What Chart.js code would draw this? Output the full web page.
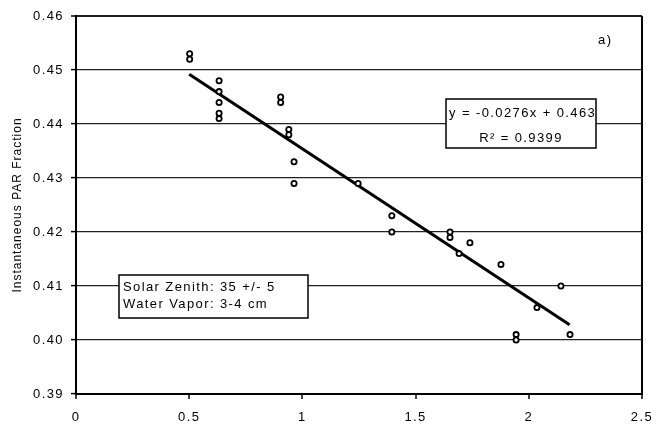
<!DOCTYPE html>
<html>
<head>
<meta charset="utf-8">
<script src="https://cdn.jsdelivr.net/npm/chart.js@4/dist/chart.umd.min.js"></script>
<style>
html, body { margin: 0; padding: 0; background: #fff; }
#wrap { width: 666px; height: 425px; }
</style>
</head>
<body>
<div id="wrap"><canvas id="parChart"></canvas></div>
<script>
// measured points: water vapour path (x) vs PAR fraction (y)
const waterVapor = [0.502, 0.502, 0.632, 0.632, 0.632, 0.632, 0.632, 0.904, 0.904, 0.94, 0.94, 0.963, 0.963,
  1.246, 1.395, 1.395, 1.652, 1.652, 1.692, 1.74, 1.877, 1.944, 1.944, 2.036, 2.142, 2.182];
const parFraction = [0.453, 0.452, 0.448, 0.446, 0.444, 0.442, 0.441, 0.445, 0.444, 0.439, 0.438, 0.433, 0.429,
  0.429, 0.423, 0.420, 0.420, 0.419, 0.416, 0.418, 0.414, 0.401, 0.400, 0.406, 0.410, 0.401];

// linear fit
const fitSlope = -0.0276;
const fitIntercept = 0.463;
const fitR2 = 0.9399;
const fitRange = [0.5, 2.18];

const xTickValues = [0, 0.5, 1, 1.5, 2, 2.5];
const yTickValues = [0.39, 0.40, 0.41, 0.42, 0.43, 0.44, 0.45, 0.46];

const FONT = "'Liberation Sans', Arial, Helvetica, sans-serif";
const yTitle = 'Instantaneous PAR Fraction';

const points = waterVapor.map((x, i) => ({ x: x, y: parFraction[i] }));
const fitLine = fitRange.map(x => ({ x: x, y: fitIntercept + fitSlope * x }));

function spacing(chart) {
  chart.ctx.letterSpacing = '1.4px';
}

function textBox(ctx, x, y, w, h) {
  ctx.fillStyle = '#fff';
  ctx.fillRect(x, y, w, h);
  ctx.strokeStyle = '#000';
  ctx.lineWidth = 1.5;
  ctx.strokeRect(x, y, w, h);
}

const notes = {
  id: 'notes',
  beforeUpdate: spacing,
  beforeDraw: spacing,
  afterDatasetsDraw(chart) {
    const ctx = chart.ctx;
    const a = chart.chartArea;
    ctx.save();
    ctx.font = '13px ' + FONT;
    ctx.textBaseline = 'middle';

    // y axis title
    ctx.save();
    ctx.letterSpacing = '1px';
    ctx.font = '12px ' + FONT;
    ctx.fillStyle = '#000';
    ctx.textAlign = 'center';
    ctx.translate(18, (a.top + a.bottom) / 2);
    ctx.rotate(-Math.PI / 2);
    ctx.fillText(yTitle, 0, 0);
    ctx.restore();

    ctx.letterSpacing = '1.4px';

    // panel tag
    ctx.fillStyle = '#000';
    ctx.textAlign = 'left';
    ctx.fillText('a)', a.left + 522, a.top + 24);

    // regression box
    textBox(ctx, a.left + 370, a.top + 83, 150, 49);
    ctx.fillStyle = '#000';
    ctx.textAlign = 'left';
    ctx.fillText('y = ' + fitSlope.toFixed(4) + 'x + ' + fitIntercept.toFixed(3), a.left + 373, a.top + 97);
    ctx.textAlign = 'center';
    ctx.fillText('R\u00B2 = ' + fitR2.toFixed(4), a.left + 445, a.top + 122);

    // conditions box
    textBox(ctx, a.left + 43, a.top + 259, 189, 43);
    ctx.fillStyle = '#000';
    ctx.textAlign = 'left';
    ctx.fillText('Solar Zenith: 35 +/- 5', a.left + 47, a.top + 271);
    ctx.fillText('Water Vapor: 3-4 cm', a.left + 47, a.top + 288);
    ctx.restore();
  }
};

const ctx = document.getElementById('parChart').getContext('2d');
const parChart = new Chart(ctx, {
  type: 'scatter',
  data: {
    datasets: [{
      label: 'PAR fraction',
      data: points,
      pointStyle: 'circle',
      pointRadius: 2.6,
      pointBorderWidth: 1.8,
      pointBorderColor: '#000',
      pointBackgroundColor: '#fff',
      order: 1
    }, {
      type: 'line',
      label: 'Linear fit',
      data: fitLine,
      borderColor: '#000',
      borderWidth: 3,
      pointRadius: 0,
      fill: false,
      order: 2
    }]
  },
  options: {
    responsive: true,
    maintainAspectRatio: false,
    animation: false,
    layout: { padding: { top: 16, right: 24, left: 0, bottom: 0 } },
    plugins: {
      legend: { display: false },
      tooltip: { enabled: false }
    },
    scales: {
      x: {
        type: 'linear',
        min: 0,
        max: 2.5,
        afterBuildTicks: s => { s.ticks = xTickValues.map(v => ({ value: v })); },
        afterFit: s => { s.height = 31; },
        ticks: {
          color: '#000',
          padding: 11,
          font: { family: FONT, size: 13 },
          callback: v => String(v)
        },
        grid: {
          color: c => (c.tick && c.tick.value === 2.5 ? '#000' : 'rgba(0,0,0,0)'),
          lineWidth: 2,
          tickColor: '#000',
          tickLength: 5,
          tickWidth: 1.5
        },
        border: { display: true, color: '#000', width: 2 }
      },
      y: {
        type: 'linear',
        min: 0.39,
        max: 0.46,
        afterBuildTicks: s => { s.ticks = yTickValues.map(v => ({ value: v })); },
        afterFit: s => { s.width = 76; },
        ticks: {
          color: '#000',
          padding: 7,
          font: { family: FONT, size: 13 },
          callback: v => v.toFixed(2)
        },
        grid: {
          color: '#222',
          lineWidth: c => (c.tick && c.tick.value === 0.46 ? 2 : 1.2),
          tickColor: '#000',
          tickLength: 5,
          tickWidth: 1.5
        },
        border: { display: true, color: '#000', width: 2 }
      }
    }
  },
  plugins: [notes]
});
</script>
</body>
</html>
